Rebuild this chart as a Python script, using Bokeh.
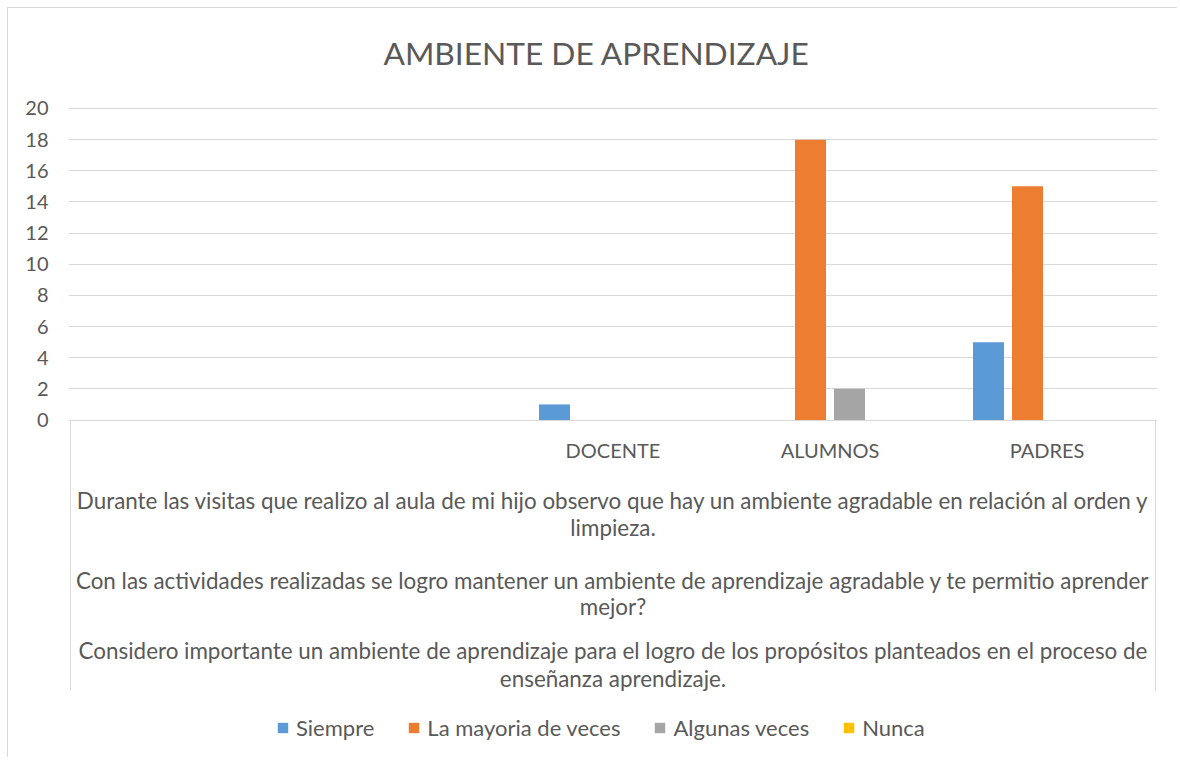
from bokeh.plotting import figure
from bokeh.models import Range1d, FixedTicker, ColumnDataSource, Legend, LegendItem
from bokeh.transform import dodge
from bokeh.core.properties import value
from bokeh.embed import file_html
from bokeh.resources import INLINE

# ---------------- data ----------------
title_text = "AMBIENTE DE APRENDIZAJE"
categories = ["", "", "DOCENTE", "ALUMNOS", "PADRES"]
series_names = ["Siempre", "La mayoria de veces", "Algunas veces", "Nunca"]
siempre = [0, 0, 1, 0, 5]
mayoria = [0, 0, 0, 18, 15]
algunas = [0, 0, 0, 2, 0]
nunca = [0, 0, 0, 0, 0]
series_colors = ["#5B9BD5", "#ED7D31", "#A5A5A5", "#FFC000"]
y_ticks = [0, 2, 4, 6, 8, 10, 12, 14, 16, 18, 20]
questions = [
    "Durante las visitas que realizo al aula de mi hijo observo que hay un ambiente agradable en relación al orden y\nlimpieza.",
    "Con las actividades realizadas se logro mantener un ambiente de aprendizaje agradable y te permitio aprender\nmejor?",
    "Considero importante un ambiente de aprendizaje para el logro de los propósitos planteados en el proceso de\nenseñanza aprendizaje.",
]

# ---------------- layout constants ----------------
FONT = "Lato"
TXT = "#595959"
GRID = "#D9D9D9"
W, H = 1170, 750
PX_X = 217.0          # pixels per category
PX_Y = 15.6           # pixels per y unit
EXT = 2.0             # frame extension in px (left/right)
FRAME_LEFT = 60
FRAME_TOP = 85
TOP_PX = 99           # figure pixel row of y = 20
ZERO_PX = 411         # figure pixel row of y = 0

n = len(categories)
x_lo = -EXT / PX_X
x_hi = n + EXT / PX_X
y_hi = 20 + (TOP_PX - FRAME_TOP) / PX_Y
y_lo = y_hi - (H - FRAME_TOP) / PX_Y
frame_w = int(round((x_hi - x_lo) * PX_X))


def ypos(fig_px):
    return (ZERO_PX - fig_px) / PX_Y


p = figure(width=W, height=H, output_backend="svg", toolbar_location=None,
           x_range=Range1d(x_lo, x_hi), y_range=Range1d(y_lo, y_hi),
           min_border_left=FRAME_LEFT, min_border_right=W - FRAME_LEFT - frame_w,
           min_border_top=FRAME_TOP, min_border_bottom=0)
p.styles = {"margin-left": "7px", "margin-top": "7px",
            "border-top": "1px solid #D9D9D9", "border-left": "1px solid #D9D9D9"}
p.outline_line_color = None
p.background_fill_color = "white"
p.border_fill_color = "white"

# title
p.title.text = title_text
p.title.align = "left"
p.title.offset = 315
p.title.standoff = 46
p.title.text_font = FONT
p.title.text_font_size = "31.7px"
p.title.text_font_style = "normal"
p.title.text_color = TXT

# axes
p.xaxis.visible = False
p.yaxis.ticker = FixedTicker(ticks=y_ticks)
p.yaxis.axis_line_color = None
p.yaxis.major_tick_line_color = None
p.yaxis.minor_tick_line_color = None
p.yaxis.major_tick_out = 0
p.yaxis.major_tick_in = 0
p.yaxis.minor_tick_out = 0
p.yaxis.major_label_standoff = 20
p.yaxis.major_label_text_font = FONT
p.yaxis.major_label_text_font_size = "20px"
p.yaxis.major_label_text_color = TXT
p.xgrid.visible = False
p.ygrid.ticker = FixedTicker(ticks=y_ticks)
p.ygrid.grid_line_color = GRID
p.ygrid.grid_line_width = 1

# bars
cat_x = [i + 0.5 for i in range(n)]
src = ColumnDataSource(dict(x=cat_x, cat=categories, s0=siempre, s1=mayoria, s2=algunas, s3=nunca))
step = 39.0 / PX_X
bw = 31.0 / PX_X
items = []
for i, (name, col) in enumerate(zip(series_names, ["s0", "s1", "s2", "s3"])):
    r = p.vbar(x=dodge("x", (i - 1.5) * step), top=col, bottom=0, width=bw, source=src,
               fill_color=series_colors[i], line_color=None)
    items.append(LegendItem(label=name, renderers=[r]))

# vertical boundary lines of the category area
p.segment(x0=[0, n], y0=[0, 0], x1=[0, n], y1=[ypos(682)] * 2, line_color=GRID, line_width=1)

# category labels
p.text(x="x", y=ypos(441), text="cat", source=src, text_align="center", text_baseline="middle",
       text_font=value(FONT), text_font_size="20px", text_color=TXT)

# question texts
q_rows = [(492, 519), (572, 598), (642, 670)]
qx, qy, qt = [], [], []
for q, rows in zip(questions, q_rows):
    for line, row in zip(q.split("\n"), rows):
        qx.append(n / 2)
        qy.append(ypos(row))
        qt.append(line)
p.text(x=qx, y=qy, text=qt, text_align="center", text_baseline="middle",
       text_font=value(FONT), text_font_size="22.4px", text_color=TXT)

# legend
legend = Legend(items=items, orientation="horizontal", location=(208, 17),
                glyph_width=13, glyph_height=13, label_standoff=7, spacing=33,
                padding=0, margin=0, border_line_color=None, background_fill_alpha=0,
                label_text_font=FONT, label_text_font_size="22px", label_text_color=TXT,
                label_height=26)
p.add_layout(legend)

open("out.html", "w").write(file_html(p, INLINE))
